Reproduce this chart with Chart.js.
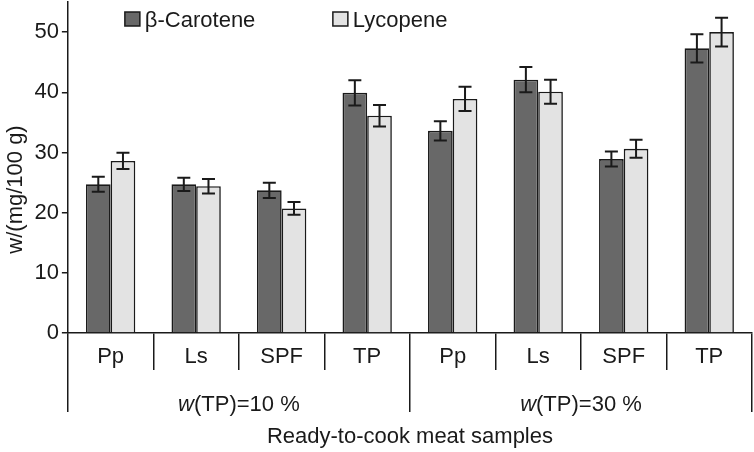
<!DOCTYPE html>
<html>
<head>
<meta charset="utf-8">
<script src="https://cdn.jsdelivr.net/npm/chart.js@4.4.1/dist/chart.umd.min.js"></script>
<style>
  html, body { margin: 0; padding: 0; background: #fff; }
  canvas { display: block; }
</style>
</head>
<body>
<canvas id="chart" width="754" height="452"></canvas>
<script>
// donnees
var categories = ['Pp', 'Ls', 'SPF', 'TP', 'Pp', 'Ls', 'SPF', 'TP'];
var groups = ['w(TP)=10 %', 'w(TP)=30 %'];
var betaCarotene = [24.7, 24.7, 23.7, 39.9, 33.6, 42.1, 28.9, 47.3];
var betaErr = [1.25, 1.1, 1.25, 2.1, 1.6, 2.1, 1.25, 2.35];
var lycopene = [28.6, 24.4, 20.7, 36.1, 38.9, 40.1, 30.6, 50.0];
var lycErr = [1.35, 1.2, 1.05, 1.8, 2.0, 2.0, 1.5, 2.4];
var yTicks = [0, 10, 20, 30, 40, 50];

var FONT = '"Liberation Sans", Arial, sans-serif';
var INK = '#1a1a1a';

//barres d'erreur
var errorBars = {
  id: 'errorBars',
  afterDatasetsDraw: function(chart) {
    var ctx = chart.ctx;
    var y = chart.scales.y;
    chart.data.datasets.forEach(function(ds, i) {
      var meta = chart.getDatasetMeta(i);
      ctx.save();
      ctx.strokeStyle = INK;
      ctx.lineWidth = 2;
      meta.data.forEach(function(bar, j) {
        var v = ds.data[j], e = ds.errors[j];
        var top = y.getPixelForValue(v + e);
        var bot = y.getPixelForValue(v - e);
        ctx.beginPath();
        ctx.moveTo(bar.x, top); ctx.lineTo(bar.x, bot);
        ctx.moveTo(bar.x - 6.5, top); ctx.lineTo(bar.x + 6.5, top);
        ctx.moveTo(bar.x - 6.5, bot); ctx.lineTo(bar.x + 6.5, bot);
        ctx.stroke();
      });
      ctx.restore();
    });
  }
};

//legende dans la zone du graphique + etiquettes de l'axe x (echantillons et groupes)
var extras = {
  id: 'extras',
  afterDraw: function(chart) {
    var ctx = chart.ctx;
    var area = chart.chartArea;
    ctx.save();
    ctx.font = '22px ' + FONT;
    ctx.textBaseline = 'alphabetic';
    var legendX = [area.left + 57, area.left + 265];
    chart.data.datasets.forEach(function(ds, i) {
      var bx = legendX[i];
      ctx.fillStyle = ds.backgroundColor;
      ctx.fillRect(bx, 12, 15, 14);
      ctx.strokeStyle = INK;
      ctx.lineWidth = 1.5;
      ctx.strokeRect(bx, 12, 15, 14);
      ctx.fillStyle = INK;
      ctx.textAlign = 'left';
      ctx.fillText(ds.label, bx + 20, 27);
    });
    // noms des echantillons, entre les separateurs
    var x = chart.scales.x;
    ctx.textAlign = 'center';
    categories.forEach(function(c, i) {
      ctx.fillText(c, x.getPixelForValue(i), x.top + 30);
    });
    // groupes, avec le w en italique
    var x2 = chart.scales.x2;
    groups.forEach(function(g, i) {
      var cx = x2.getPixelForValue(i);
      var head = g.charAt(0), rest = g.slice(1);
      ctx.font = 'italic 22px ' + FONT;
      var w1 = ctx.measureText(head).width;
      ctx.font = '22px ' + FONT;
      var w2 = ctx.measureText(rest).width;
      var sx = cx - (w1 + w2) / 2;
      ctx.textAlign = 'left';
      ctx.font = 'italic 22px ' + FONT;
      ctx.fillText(head, sx, 411);
      ctx.font = '22px ' + FONT;
      ctx.fillText(rest, sx + w1, 411);
    });
    ctx.restore();
  }
};

var ctx = document.getElementById('chart').getContext('2d');
var chart = new Chart(ctx, {
  type: 'bar',
  data: {
    labels: categories,
    datasets: [{
      label: '\u03b2-Carotene',
      data: betaCarotene,
      errors: betaErr,
      backgroundColor: '#686868',
      borderColor: INK,
      borderWidth: 1.6
    }, {
      label: 'Lycopene',
      data: lycopene,
      errors: lycErr,
      backgroundColor: '#e3e3e3',
      borderColor: INK,
      borderWidth: 1.6
    }]
  },
  options: {
    responsive: false,
    devicePixelRatio: 1,
    animation: false,
    layout: { padding: { top: 2, right: 2, bottom: 0, left: 0 } },
    datasets: { bar: { categoryPercentage: 0.577, barPercentage: 1 } },
    plugins: { legend: { display: false }, tooltip: { enabled: false } },
    scales: {
      x: {
        weight: 0,
        offset: true,
        grid: { offset: true, drawOnChartArea: false, tickLength: 37, color: INK, lineWidth: 1.5 },
        border: { display: true, color: INK, width: 1.5 },
        ticks: { display: false }
      },
      x2: {
        type: 'category',
        position: 'bottom',
        weight: 1,
        labels: groups,
        offset: true,
        grid: { offset: true, drawOnChartArea: false, tickLength: 42, color: INK, lineWidth: 1.5 },
        border: { display: false },
        ticks: { display: false },
        title: {
          display: true,
          text: 'Ready-to-cook meat samples',
          color: INK,
          font: { family: FONT, size: 22 },
          padding: { top: 11.6, bottom: 2 }
        }
      },
      y: {
        min: 0,
        max: 55,
        afterBuildTicks: function(axis) {
          axis.ticks = yTicks.map(function(v) { return { value: v }; });
        },
        afterFit: function(axis) {
          // pas de marge pour l'etiquette du haut (55 n'a pas de graduation)
          axis.paddingTop = 0;
        },
        grid: { drawOnChartArea: false, tickLength: 6, color: INK, lineWidth: 1.5 },
        border: { display: true, color: INK, width: 1.5 },
        ticks: { color: INK, font: { family: FONT, size: 22 }, padding: 3 },
        title: {
          display: true,
          // les espaces en fin decalent le titre vers le bas comme sur la figure
          text: 'w/(mg/100 g)\u2003\u2003',
          color: INK,
          font: { family: FONT, size: 22 },
          padding: { top: 3, bottom: 2 }
        }
      }
    }
  },
  plugins: [errorBars, extras]
});
</script>
</body>
</html>
